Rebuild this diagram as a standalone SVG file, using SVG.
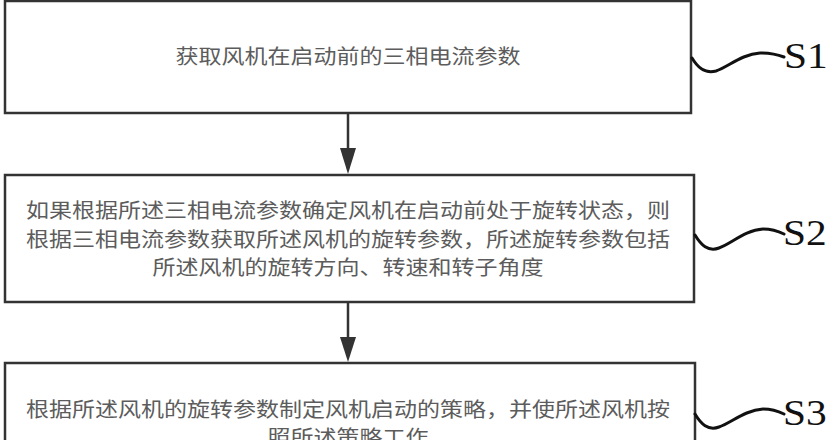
<svg xmlns="http://www.w3.org/2000/svg" width="836" height="440" viewBox="0 0 836 440">
<style>
.box{fill:#fff;stroke:#333;stroke-width:2.5}
.t{font-family:"Noto Sans CJK SC","Noto Sans",sans-serif;font-size:20px;fill:#5c5c5c;text-anchor:middle}
.lbl{font-family:"Liberation Serif",serif;font-size:36px;fill:#111}
.tilde{fill:none;stroke:#111;stroke-width:3;stroke-linecap:round}
.conn{stroke:#333;stroke-width:2.5;fill:none}
</style>
<rect width="836" height="440" fill="#fff"/>
<g id="connectors">
<line class="conn" x1="348" y1="113" x2="348" y2="148"/>
<path d="M340,148 L356,148 L348,174 Z" fill="#333"/>
<line class="conn" x1="348" y1="302" x2="348" y2="337"/>
<path d="M340,337 L356,337 L348,362 Z" fill="#333"/>
</g>
<g id="S1">
<rect class="box" x="5" y="1" width="686" height="112"/>
<text class="t" transform="translate(348,64) scale(1.15,1)">获取风机在启动前的三相电流参数</text>
<path class="tilde" d="M692,58 C698,68 705,74 716,71 C728,67 742,54 760,53 C770,53 776,54 784,57"/>
<text class="lbl" transform="translate(784,68) scale(1.15,1)">S1</text>
</g>
<g id="S2">
<rect class="box" x="5" y="175" width="689" height="127"/>
<text class="t" transform="translate(348,218) scale(1.15,1)">如果根据所述三相电流参数确定风机在启动前处于旋转状态，则</text>
<text class="t" transform="translate(348,247) scale(1.15,1)">根据三相电流参数获取所述风机的旋转参数，所述旋转参数包括</text>
<text class="t" transform="translate(348,275) scale(1.15,1)">所述风机的旋转方向、转速和转子角度</text>
<path class="tilde" d="M695,235 C701,245 708,252 719,248 C731,244 745,230 763,229 C773,229 778,231 784,234"/>
<text class="lbl" transform="translate(783,245) scale(1.15,1)">S2</text>
</g>
<g id="S3">
<rect class="box" x="5" y="363" width="690" height="90"/>
<text class="t" transform="translate(348,417) scale(1.15,1)">根据所述风机的旋转参数制定风机启动的策略，并使所述风机按</text>
<text class="t" transform="translate(348,445) scale(1.15,1)">照所述策略工作</text>
<path class="tilde" d="M695,414 C701,424 708,431 719,427 C731,423 745,410 763,409 C773,409 778,411 784,414"/>
<text class="lbl" transform="translate(783,425) scale(1.15,1)">S3</text>
</g>
</svg>
